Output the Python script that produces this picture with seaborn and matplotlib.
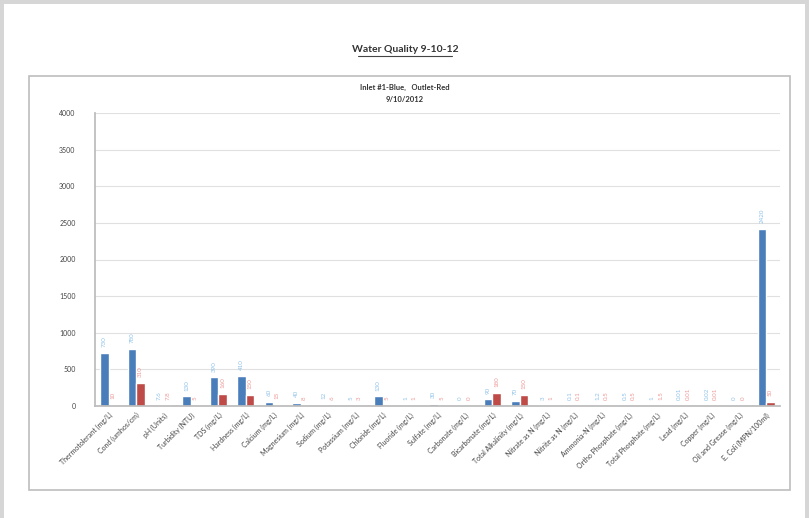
import matplotlib
matplotlib.use("Agg")
import matplotlib.pyplot as plt
import seaborn as sns
import pandas as pd
from matplotlib.patches import Rectangle
from matplotlib.lines import Line2D

categories = [
    "Thermotolerant (mg/L)", "Cond (umhos/cm)", "pH (Units)", "Turbidity (NTU)",
    "TDS (mg/L)", "Hardness (mg/L)", "Calcium (mg/L)", "Magnesium (mg/L)",
    "Sodium (mg/L)", "Potassium (mg/L)", "Chloride (mg/L)", "Fluoride (mg/L)",
    "Sulfate (mg/L)", "Carbonate (mg/L)", "Bicarbonate (mg/L)",
    "Total Alkalinity (mg/L)", "Nitrate as N (mg/L)", "Nitrite as N (mg/L)",
    "Ammonia-N (mg/L)", "Ortho Phosphate (mg/L)", "Total Phosphate (mg/L)",
    "Lead (mg/L)", "Copper (mg/L)", "Oil and Grease (mg/L)", "E. Coli (MPN/100ml)",
]
inlet = [730, 780, 7.6, 130, 390, 410, 60, 40, 12, 5, 130, 1, 30, 0, 90,
         70, 3, 0.1, 1.2, 0.5, 1, 0.01, 0.02, 0, 2420]
outlet = [10, 310, 7.8, 5, 160, 150, 15, 8, 6, 3, 5, 1, 5, 0, 180,
          150, 1, 0.1, 0.5, 0.5, 1.5, 0.01, 0.01, 0, 50]
series_names = ["Inlet #1", "Outlet"]
y_ticks = [0, 500, 1000, 1500, 2000, 2500, 3000, 3500, 4000]

df = pd.DataFrame({
    "Parameter": categories * 2,
    "Value": inlet + outlet,
    "Site": [series_names[0]] * len(categories) + [series_names[1]] * len(categories),
})

sns.set_theme(style="white")
plt.rcParams["font.family"] = ["Lato", "DejaVu Sans"]

W, H = 809, 518
fig = plt.figure(figsize=(W / 100, H / 100), dpi=100)
fig.patch.set_facecolor("#d6d6d6")

def fx(x): return x / W
def fy(y): return 1 - y / H

# white page
fig.add_artist(Rectangle((fx(4), 0), fx(805) - fx(4), fy(4), transform=fig.transFigure,
                         facecolor="white", edgecolor="none", zorder=-3))
# inner chart box
fig.add_artist(Rectangle((fx(29), fy(490)), fx(790) - fx(29), fy(76) - fy(490),
                         transform=fig.transFigure, facecolor="white",
                         edgecolor="#bdbdbd", linewidth=1.2, zorder=-2))

# title, underlined
fig.text(fx(405), fy(49), "Water Quality 9-10-12", ha="center", va="center",
         fontsize=7.5, fontweight="bold", color="#333333")
fig.add_artist(Line2D([fx(358), fx(452)], [fy(56), fy(56)], transform=fig.transFigure,
                      color="#444444", linewidth=0.8))
fig.text(fx(405), fy(87), "Inlet #1-Blue,   Outlet-Red", ha="center", va="center",
         fontsize=5.5, fontweight="bold", color="#333333")
fig.text(fx(405), fy(99), "9/10/2012", ha="center", va="center",
         fontsize=5.5, fontweight="bold", color="#333333")

ax = fig.add_axes([fx(95), fy(406), fx(780) - fx(95), fy(113) - fy(406)])
ax.set_facecolor("none")
palette = {series_names[0]: "#4a7ebb", series_names[1]: "#be4b48"}
sns.barplot(data=df, x="Parameter", y="Value", hue="Site", palette=palette,
            width=0.62, ax=ax, legend=False, saturation=1, errorbar=None)

ax.set_ylim(0, 4000)
ax.set_yticks(y_ticks)
ax.set_yticklabels([str(t) for t in y_ticks], fontsize=5, color="#444444")
ax.set_xlim(-0.5, len(categories) - 0.5)
ax.set_xlabel("")
ax.set_ylabel("")
ax.set_xticks(range(len(categories)))
ax.set_xticklabels(categories, rotation=45, ha="right", rotation_mode="anchor",
                   fontsize=5, color="#444444")
ax.grid(axis="y", color="#e0e0e0", linewidth=0.8)
ax.set_axisbelow(True)
for s in ["top", "right"]:
    ax.spines[s].set_visible(False)
ax.spines["left"].set_color("#bbbbbb")
ax.spines["bottom"].set_color("#bbbbbb")
ax.tick_params(axis="y", length=2, color="#bbbbbb", pad=12)
ax.tick_params(axis="x", length=2, color="#bbbbbb", pad=2)

# data labels (rotated, faint)
label_colors = ["#8fc3ea", "#ee9a98"]
for ci, container in enumerate(ax.containers):
    vals = inlet if ci == 0 else outlet
    for bar, v in zip(container, vals):
        txt = f"{v:g}"
        ax.text(bar.get_x() + bar.get_width() / 2, bar.get_height() + 80, txt,
                rotation=90, ha="center", va="bottom", fontsize=4.5,
                color=label_colors[ci])

fig.savefig("out.png", dpi=100, facecolor=fig.get_facecolor())
